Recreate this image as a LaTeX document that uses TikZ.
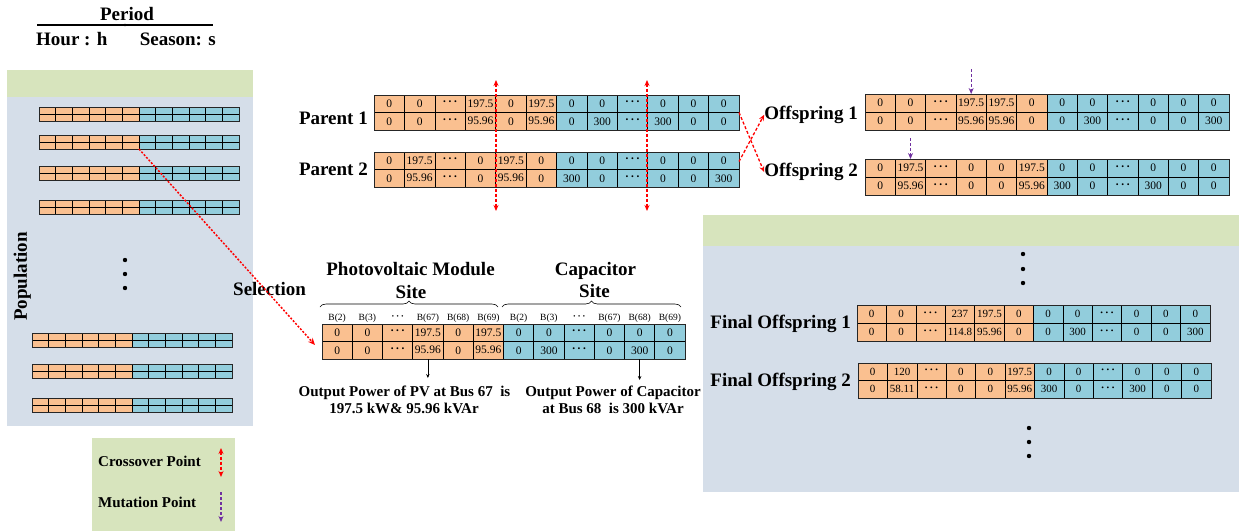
\documentclass[tikz,border=0pt]{standalone}
\usepackage{fontspec}
\setmainfont{Liberation Serif}
\usetikzlibrary{arrows.meta,decorations.pathreplacing}
\definecolor{cello}{HTML}{FAC090}
\definecolor{cellb}{HTML}{92CDDC}
\definecolor{hdrg}{HTML}{D7E4BD}
\definecolor{panelb}{HTML}{D5DEE9}
\definecolor{mpur}{HTML}{7030A0}
\definecolor{xred}{HTML}{FF0000}
\newcommand\dd{\textbf{\raisebox{0.5pt}{·\kern1.6pt·\kern1.6pt·}}}
\newcommand\cellfont{\fontsize{11.5}{12}\selectfont}
\newcommand\finfont{\fontsize{11}{12}\selectfont}
% #1 name, #2 x0, #3 y0, #4 cell width, #5 sub-row height, #6 top values, #7 bottom values, #8 font
\newcommand\chrom[8]{%
  \foreach \v [count=\i from 0] in {#6}{%
    \ifnum\i<6 \def\cc{cello}\else\def\cc{cellb}\fi
    \node[cell,fill=\cc,minimum width=#4,minimum height=#5,font=#8] (#1t\i) at ({#2+(\i+0.5)*#4},{#3+0.5*#5}) {\v};
  }%
  \foreach \v [count=\i from 0] in {#7}{%
    \ifnum\i<6 \def\cc{cello}\else\def\cc{cellb}\fi
    \node[cell,fill=\cc,minimum width=#4,minimum height=#5,font=#8] (#1b\i) at ({#2+(\i+0.5)*#4},{#3+1.5*#5}) {\v};
  }%
  \draw[rowborder] (#2,#3) rectangle ({#2+12*#4},{#3+2*#5});
  \coordinate (#1e) at ({#2+12*#4},{#3+#5});
  \coordinate (#1w) at (#2,{#3+#5});
}
% #1 name, #2 x0, #3 y0
\newcommand\poprow[3]{%
  \foreach \i in {0,...,11}{%
    \ifnum\i<6 \def\cc{cello}\else\def\cc{cellb}\fi
    \filldraw[popcell,fill=\cc] ({#2+\i*16.667},{#3}) rectangle ++(16.667,7);
    \filldraw[popcell,fill=\cc] ({#2+\i*16.667},{#3+7}) rectangle ++(16.667,7);
  }%
  \draw[rowborder] (#2,#3) rectangle ++(200,14);
  \coordinate (#1m) at ({#2+100},{#3+14});
}
\begin{document}
\begin{tikzpicture}[x=1pt,y=-1pt,
  cell/.style={draw=black,line width=0.6pt,inner sep=0pt,outer sep=0pt,anchor=center},
  rowborder/.style={draw=black!85,line width=0.9pt},
  popcell/.style={draw=black,line width=0.6pt},
  lbl/.style={font=\fontsize{19}{20}\selectfont\bfseries,inner sep=0pt},
  note/.style={font=\fontsize{15}{17}\selectfont\bfseries,inner sep=0pt},
  leg/.style={font=\fontsize{15}{17}\selectfont\bfseries,inner sep=0pt},
  blab/.style={font=\fontsize{9.5}{10}\selectfont,inner sep=0pt},
  xarrow/.style={xred,line width=1.3pt,dash pattern=on 3pt off 2pt,>={Stealth[length=6pt,width=5pt]},<->},
  xsingle/.style={xred,line width=1.3pt,dash pattern=on 3pt off 2pt,>={Stealth[length=6pt,width=5pt]},->},
  mut/.style={mpur,line width=1.3pt,dash pattern=on 3pt off 2pt,>={Stealth[length=6pt,width=5pt]},->},
  selarr/.style={xred,line width=1.5pt,dash pattern=on 2pt off 1.6pt,>={Stealth[length=7pt,width=6pt]},->},
  small/.style={black,line width=0.6pt,>={Stealth[length=4pt,width=3.5pt]},->},
  brc/.style={decorate,decoration={brace,amplitude=6pt},line width=0.6pt}
]
\useasboundingbox (0,0) rectangle (1240,531);
% header
\node[lbl,anchor=base] (per) at (127,20.7) {Period};
\coordinate (hl) at (37,25); \coordinate (hr) at (213,25);
\draw[line width=1.1pt] (hl) -- (hr);
\fill (125,25) circle[radius=1.3pt];
\node[lbl,anchor=base west] (hour) at (36,45) {Hour : h};
\node[lbl,anchor=base east] (seas) at (216,45) {Season: s};
% population panel
\fill[hdrg] (7,70) rectangle (253,97);
\fill[panelb] (7,97) rectangle (253,426);
\poprow{pr1}{39}{107}
\poprow{pr2}{39}{135}
\poprow{pr3}{39}{166}
\poprow{pr4}{39}{200}
\poprow{pr5}{32}{333}
\poprow{pr6}{32}{364}
\poprow{pr7}{32}{398}
\foreach \yy in {260,274,288} \fill (125,\yy) circle[radius=2.2pt];
\node[lbl,rotate=90,anchor=base] (pop) at (27,276.5) {Population};
% final panel
\fill[hdrg] (703,215) rectangle (1239,246);
\fill[panelb] (703,246) rectangle (1239,492);
\foreach \yy in {254,269,283} \fill (1023,\yy) circle[radius=2.2pt];
\foreach \yy in {428,442,456} \fill (1029,\yy) circle[radius=2.2pt];
% legend
\fill[hdrg] (92,438) rectangle (235,531);
\node[leg,anchor=base west] (lgc) at (98,466) {Crossover Point};
\node[leg,anchor=base west] (lgm) at (98,507.3) {Mutation Point};
\coordinate (lca) at (221,448); \coordinate (lcb) at (221,477);
\coordinate (lma) at (221,492); \coordinate (lmb) at (221,522);
\draw[xarrow] (lca) -- (lcb);
\draw[mut] (lma) -- (lmb);
% parents
\chrom{pa}{374}{95}{30.42}{17.5}{0,0,\dd,197.5,0,197.5,0,0,\dd,0,0,0}{0,0,\dd,95.96,0,95.96,0,300,\dd,300,0,0}{\cellfont}
\chrom{pb}{374}{152}{30.42}{17.5}{0,197.5,\dd,0,197.5,0,0,0,\dd,0,0,0}{0,95.96,\dd,0,95.96,0,300,0,\dd,0,0,300}{\cellfont}
\node[lbl,anchor=base east] (lp1) at (368,124.3) {Parent 1};
\node[lbl,anchor=base east] (lp2) at (368,175.7) {Parent 2};
% offspring
\chrom{oa}{865}{94}{30.33}{18}{0,0,\dd,197.5,197.5,0,0,0,\dd,0,0,0}{0,0,\dd,95.96,95.96,0,0,300,\dd,0,0,300}{\cellfont}
\chrom{ob}{865}{159}{30.33}{18}{0,197.5,\dd,0,0,197.5,0,0,\dd,0,0,0}{0,95.96,\dd,0,0,95.96,300,0,\dd,300,0,0}{\cellfont}
\node[lbl,anchor=base east] (lo1) at (858,119.3) {Offspring 1};
\node[lbl,anchor=base east] (lo2) at (858,176.7) {Offspring 2};
% crossover markers
\coordinate (c1t) at (496,80); \coordinate (c1b) at (496,211);
\coordinate (c2t) at (647,80); \coordinate (c2b) at (647,211);
\draw[xarrow] (c1t) -- (c1b);
\draw[xarrow] (c2t) -- (c2b);
% crossing connectors
\draw[xsingle] (pae) -- (lo2.west);
\draw[xsingle] ([yshift=8pt]pbe) -- (lo1.west);
% mutation markers
\draw[mut] ([yshift=25pt]oat3.north) -- (oat3.north);
\draw[mut] ([yshift=21pt]obt1.north) -- (obt1.north);
% selected chromosome
\chrom{md}{322}{324}{30.25}{17.5}{0,0,\dd,197.5,0,197.5,0,0,\dd,0,0,0}{0,0,\dd,95.96,0,95.96,0,300,\dd,0,300,0}{\cellfont}
\foreach \t [count=\i from 0] in {B(2),B(3),\dd,B(67),B(68),B(69)}
  \node[blab,anchor=base] (bl\i) at ([yshift=4pt]mdt\i.north) {\t};
\foreach \t [count=\i from 6] in {B(2),B(3),\dd,B(67),B(68),B(69)}
  \node[blab,anchor=base] (bl\i) at ([yshift=4pt]mdt\i.north) {\t};
\coordinate (brA) at (320,307); \coordinate (brB) at (498,307);
\coordinate (brC) at (502,307); \coordinate (brD) at (681,307);
\draw[brc] (brA) -- (brB);
\draw[brc] (brC) -- (brD);
\node[lbl,anchor=base] (pvt) at (410.5,275) {Photovoltaic Module};
\node[lbl,anchor=base] (pvs) at (411,298) {Site};
\node[lbl,anchor=base] (cpt) at (595.5,275) {Capacitor};
\node[lbl,anchor=base] (cps) at (594.5,297) {Site};
\node[lbl,anchor=base west] (lsel) at (233,295) {Selection};
\coordinate (seltip) at (315,345);
\draw[selarr] (pr2m) -- (seltip);
\draw[small] (mdb3.south) -- ++(0,19);
\draw[small] (mdb10.south) -- ++(0,21);
\node[note,anchor=base] (pvo1) at (404.5,396.7) {Output Power of PV at Bus 67\ \ is};
\node[note,anchor=base] (pvo2) at (404,413.3) {197.5 kW\& 95.96 kVAr};
\node[note,anchor=base] (cpo1) at (613,396.7) {Output Power of Capacitor};
\node[note,anchor=base] (cpo2) at (613,413.3) {at Bus 68\ \ is 300 kVAr};
% final offspring
\chrom{fa}{857}{305}{29.42}{18}{0,0,\dd,237,197.5,0,0,0,\dd,0,0,0}{0,0,\dd,114.8,95.96,0,0,300,\dd,0,0,300}{\finfont}
\chrom{fb}{858}{363}{29.42}{17.5}{0,120,\dd,0,0,197.5,0,0,\dd,0,0,0}{0,58.11,\dd,0,0,95.96,300,0,\dd,300,0,0}{\finfont}
\node[lbl,anchor=base east] (lf1) at (851,328.3) {Final Offspring 1};
\node[lbl,anchor=base east] (lf2) at (851,386.7) {Final Offspring 2};
\end{tikzpicture}
\end{document}
